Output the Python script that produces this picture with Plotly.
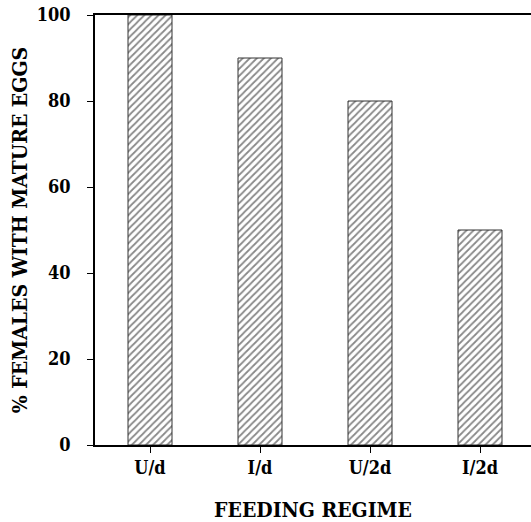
import plotly.graph_objects as go

categories = ["U/d", "I/d", "U/2d", "I/2d"]
values = [100, 90, 80, 50]
y_ticks = [0, 20, 40, 60, 80, 100]

font_family = "DejaVu Serif Condensed, DejaVu Serif"

fig = go.Figure()
fig.add_trace(go.Bar(
    x=categories,
    y=values,
    width=0.4,
    marker=dict(
        color="white",
        line=dict(color="#333333", width=1),
        pattern=dict(shape="/", size=5, solidity=0.35, fgcolor="#111111", bgcolor="white"),
    ),
))

fig.update_layout(
    width=531,
    height=522,
    margin=dict(l=95, r=0, t=15, b=77, autoexpand=False),
    paper_bgcolor="white",
    plot_bgcolor="white",
    showlegend=False,
    font=dict(family=font_family, size=18, color="black"),
)

fig.update_xaxes(
    range=[-0.5, 3.5 - 4 / 110],
    automargin=False,
    showline=True, linecolor="black", linewidth=1.5, mirror=True,
    ticks="outside", ticklen=6, tickcolor="black", tickwidth=1,
    showgrid=False, zeroline=False,
    tickfont=dict(family=font_family, size=18, color="black", weight="bold"),
    title=dict(text="FEEDING REGIME", standoff=25,
               font=dict(family=font_family, size=21, color="black", weight="bold")),
)
fig.update_yaxes(
    range=[0, 100],
    automargin=False,
    tickvals=y_ticks,
    ticklabelstandoff=13,
    showline=True, linecolor="black", linewidth=1.5,
    ticks="outside", ticklen=6, tickcolor="black", tickwidth=1,
    showgrid=False, zeroline=False,
    tickfont=dict(family=font_family, size=18, color="black", weight="bold"),
    title=dict(text="% FEMALES WITH MATURE EGGS", standoff=3,
               font=dict(family=font_family, size=21, color="black", weight="bold")),
)

fig.write_html("out.html", post_script="document.body.style.margin='0';",
               config={"displayModeBar": False})
